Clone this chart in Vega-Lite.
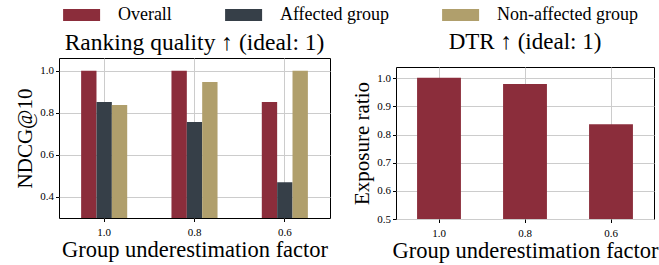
{
  "$schema": "https://vega.github.io/schema/vega-lite/v6.json",
  "padding": {"left": 14, "top": 6, "right": 0, "bottom": 0},
  "config": {
    "font": "Liberation Serif",
    "view": {"stroke": "black", "strokeWidth": 1},
    "style": {
      "guide-label": {"font": "Liberation Serif"},
      "guide-title": {"font": "Liberation Serif"},
      "group-title": {"font": "Liberation Serif"}
    },
    "axis": {
      "labelFont": "Liberation Serif", "titleFont": "Liberation Serif",
      "labelFontSize": 11, "titleFontSize": 21, "labelColor": "black", "titleColor": "black",
      "titleFontWeight": "normal", "tickColor": "black", "tickSize": 3.5,
      "gridColor": "#cccccc", "gridWidth": 1, "domain": false
    },
    "axisX": {"labelPadding": 5, "titlePadding": 1},
    "title": {"font": "Liberation Serif", "fontSize": 23.5, "fontWeight": "normal", "baseline": "alphabetic", "offset": 4, "color": "black"},
    "legend": {
      "labelFont": "Liberation Serif", "labelFontSize": 18, "labelColor": "black",
      "symbolType": "M-3,-0.973H3V0.973H-3Z", "symbolSize": 152.1, "symbolStrokeWidth": 0,
      "symbolOpacity": 1, "labelOffset": 27.3, "columnPadding": 52
    }
  },
  "datasets": {
    "ndcg": [
      {"factor": "1.0", "group": "Overall", "value": 1.0},
      {"factor": "1.0", "group": "Affected group", "value": 0.851},
      {"factor": "1.0", "group": "Non-affected group", "value": 0.837},
      {"factor": "0.8", "group": "Overall", "value": 1.0},
      {"factor": "0.8", "group": "Affected group", "value": 0.756},
      {"factor": "0.8", "group": "Non-affected group", "value": 0.946},
      {"factor": "0.6", "group": "Overall", "value": 0.851},
      {"factor": "0.6", "group": "Affected group", "value": 0.47},
      {"factor": "0.6", "group": "Non-affected group", "value": 1.0}
    ],
    "dtr": [
      {"factor": "1.0", "group": "Overall", "value": 1.002},
      {"factor": "0.8", "group": "Overall", "value": 0.98},
      {"factor": "0.6", "group": "Overall", "value": 0.837}
    ],
    "empty": []
  },
  "spacing": 20,
  "resolve": {"scale": {"color": "shared"}},
  "hconcat": [
    {
      "width": 271, "height": 160,
      "title": "Ranking quality ↑ (ideal: 1)",
      "data": {"name": "ndcg"},
      "mark": {"type": "bar", "clip": true},
      "encoding": {
        "x": {"field": "factor", "type": "nominal", "sort": ["1.0", "0.8", "0.6"],
          "scale": {"paddingInner": 0.49, "paddingOuter": 0.245},
          "axis": {"title": "Group underestimation factor", "labelAngle": 0, "grid": true, "bandPosition": 0.5, "titleFontSize": 22.5}},
        "xOffset": {"field": "group", "type": "nominal", "sort": ["Overall", "Affected group", "Non-affected group"],
          "scale": {"paddingInner": 0, "paddingOuter": 0}},
        "y": {"field": "value", "type": "quantitative",
          "scale": {"domain": [0.3, 1.06], "nice": false, "zero": false},
          "axis": {"title": "NDCG@10", "values": [0.4, 0.6, 0.8, 1.0], "format": ".1f"}},
        "color": {"field": "group", "type": "nominal",
          "scale": {"domain": ["Overall", "Affected group", "Non-affected group"], "range": ["#8B2D3B", "#363F48", "#B09F6C"]},
          "legend": {"title": null, "orient": "none", "direction": "horizontal", "columns": 3, "legendX": 13.6, "legendY": -52}}
      }
    },
    {
      "spacing": 7,
      "vconcat": [
        {
          "width": 258, "height": 1,
          "title": {"text": "DTR ↑ (ideal: 1)", "fontSize": 23},
          "view": {"stroke": null},
          "data": {"name": "empty"},
          "mark": {"type": "point", "opacity": 0},
          "encoding": {}
        },
        {
          "width": 258, "height": 152,
          "data": {"name": "dtr"},
          "mark": {"type": "bar", "clip": true},
          "encoding": {
            "x": {"field": "factor", "type": "nominal", "sort": ["1.0", "0.8", "0.6"],
              "scale": {"paddingInner": 0.49, "paddingOuter": 0.245},
              "axis": {"title": "Group underestimation factor", "labelAngle": 0, "grid": true, "bandPosition": 0.5, "titleFontSize": 22.5}},
            "y": {"field": "value", "type": "quantitative",
              "scale": {"domain": [0.5, 1.04], "nice": false, "zero": false},
              "axis": {"title": "Exposure ratio", "values": [0.5, 0.6, 0.7, 0.8, 0.9, 1.0], "format": ".1f"}},
            "color": {"field": "group", "type": "nominal",
              "scale": {"domain": ["Overall", "Affected group", "Non-affected group"], "range": ["#8B2D3B", "#363F48", "#B09F6C"]}}
          }
        }
      ]
    }
  ]
}
